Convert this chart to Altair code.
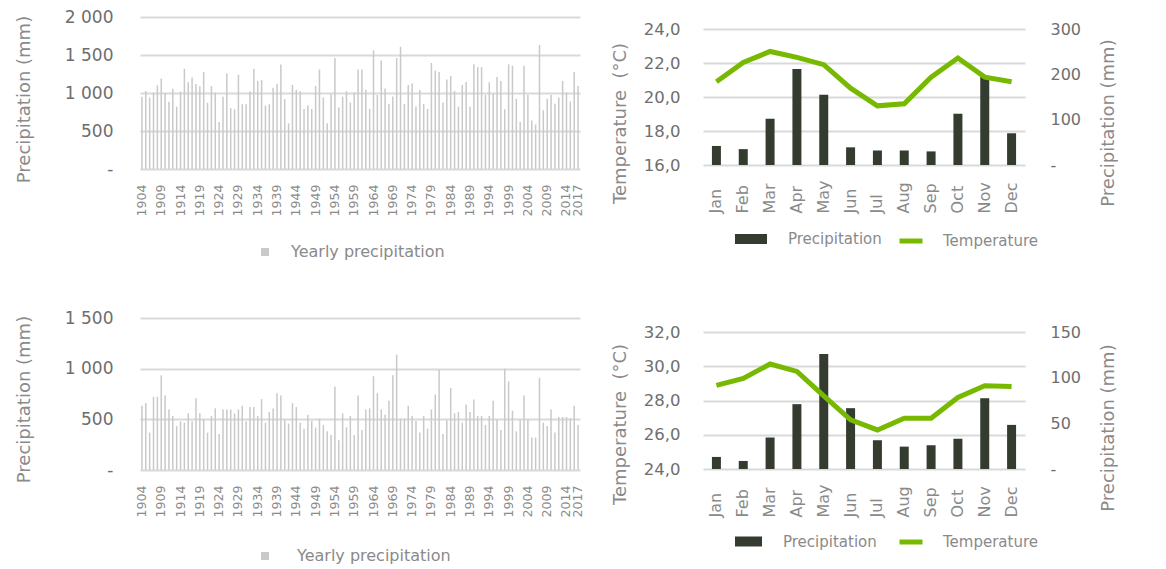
import altair as alt
import pandas as pd

# ---------------- data ----------------
years = list(range(1904, 2018))
precip_site1 = [950, 1025, 940, 1005, 1100, 1190, 1000, 885, 1055, 820, 1020, 1320, 1140, 1205, 1120, 1090,
                1275, 870, 1090, 1005, 620, 950, 1255, 800, 785, 1240, 853, 853, 1020, 1320, 1158, 1170, 835,
                853, 1068, 1120, 1375, 920, 600,
                1106, 1041, 1023, 791, 835, 791, 1093, 1308, 940, 603, 984, 1461, 809, 953, 1023, 875, 1006,
                1308, 1308, 1041, 791, 1561, 975, 1426, 1058, 857, 953, 1461, 1609, 857, 1106, 1124, 822,
                1041, 857, 791, 1395, 1294,
                1277, 875, 1176, 1224, 1028, 822, 1106, 1146, 822, 1377, 1342, 1342, 975, 1141, 993, 1211,
                1159, 787, 1377, 1360, 923, 617, 1360, 975, 638, 586, 1631, 774, 923, 975, 857, 940, 1159,
                1006, 888, 1277, 1093]
precip_site2 = [634, 660, 369, 722, 722, 935, 735, 598, 533, 435, 480, 467, 559, 480, 709, 559, 503, 369,
                533, 608, 356, 598, 598, 598, 559, 598, 634, 480, 621, 621, 533, 699, 467, 572, 608, 758,
                735, 497, 458,
                660, 621, 467, 408, 546, 484, 418, 506, 444, 382, 346, 824, 294, 559, 422, 533, 346, 735,
                395, 598, 608, 925, 758, 598, 546, 683, 935, 1137, 506, 506, 634, 533, 484, 369, 533, 408,
                598, 745,
                987, 356, 490, 810, 559, 572, 467, 647, 572, 696, 533, 533, 444, 533, 683, 497, 395, 1000,
                873, 585, 382, 497, 735, 497, 320, 320, 912, 467, 435, 598, 369, 523, 523, 523, 510, 634, 444]
year_ticks = [1904, 1909, 1914, 1919, 1924, 1929, 1934, 1939, 1944, 1949, 1954, 1959, 1964, 1969,
              1974, 1979, 1984, 1989, 1994, 1999, 2004, 2009, 2014, 2017]

months = ["Jan", "Feb", "Mar", "Apr", "May", "Jun", "Jul", "Aug", "Sep", "Oct", "Nov", "Dec"]
month_precip_1 = [42, 35, 102, 212, 155, 39, 32, 32, 30, 113, 194, 70]
month_temp_1 = [20.9, 22.03, 22.68, 22.33, 21.9, 20.52, 19.48, 19.6, 21.17, 22.29, 21.17, 20.9]
month_precip_2 = [13.2, 8.8, 34.4, 71, 126, 66.6, 31.5, 24.5, 26, 33, 77.5, 48.3]
month_temp_2 = [28.88, 29.29, 30.13, 29.7, 28.27, 26.87, 26.28, 26.97, 26.97, 28.18, 28.86, 28.82]

temp_ticks_1 = [16, 18, 20, 22, 24]
precip_ticks_1 = [0, 100, 200, 300]
temp_ticks_2 = [24, 26, 28, 30, 32]
precip_ticks_2 = [0, 50, 100, 150]

assert len(precip_site1) == len(years) == len(precip_site2)

# ---------------- style ----------------
FONT = "DejaVu Sans"
LABEL_C = "#6e6e6e"
TITLE_C = "#8a8a8a"
GRID_C = "#d9d9d9"
BAR_LIGHT = "#c9c9c9"
BAR_DARK = "#343c2f"
GREEN = "#77b900"

thousands = "datum.value == 0 ? '-' : replace(format(datum.value, ','), ',', ' ')"
decimal_comma = "replace(format(datum.value, '.1f'), '.', ',')"
dash_zero = "datum.value == 0 ? '-' : format(datum.value, 'd')"

NO_VIEW = alt.ViewBackground(stroke="transparent", strokeWidth=0)


def yearly_chart(values, ymax, yvals, title_y, legend_y, label_offset):
    df = pd.DataFrame({"year": years, "precip": values, "series": "Yearly precipitation"})
    return alt.Chart(df).mark_bar(size=1.5).encode(
        x=alt.X("year:O", scale=alt.Scale(paddingInner=0, paddingOuter=0),
                axis=alt.Axis(values=year_ticks, title=None, labelAngle=270, labelFontSize=12.6,
                              labelColor=TITLE_C, labelPadding=15, ticks=False, domain=False,
                              grid=False, labelFont=FONT)),
        y=alt.Y("precip:Q", scale=alt.Scale(domain=[0, ymax], nice=False),
                axis=alt.Axis(values=yvals, labelExpr=thousands, title="Precipitation (mm)",
                              titleFontSize=18, titleFontWeight="normal", titleColor=TITLE_C,
                              titleFont=FONT, titleY=title_y, titlePadding=31,
                              labelFontSize=17, labelColor=LABEL_C, labelFont=FONT, labelPadding=27,
                              ticks=False, domain=False, grid=True, gridColor=GRID_C, gridWidth=2)),
        color=alt.Color("series:N", scale=alt.Scale(domain=["Yearly precipitation"], range=[BAR_LIGHT]),
                        legend=alt.Legend(title=None, orient="none", legendX=117, legendY=legend_y,
                                          symbolType="square", symbolSize=64, symbolStrokeWidth=0,
                                          labelFontSize=16, labelColor=TITLE_C, labelFont=FONT,
                                          labelOffset=label_offset, padding=0)),
    ).properties(width=440, height=152, view=NO_VIEW)


def climate_chart(precip, temp, tdom, pdom, tticks, pticks, title_y_left, title_y_right, height,
                  leg_y_p, leg_y_t, rect_size):
    df = pd.DataFrame({"month": months, "precip": precip, "temp": temp,
                       "p": "Precipitation", "t": "Temperature"})
    base = alt.Chart(df)
    xenc = alt.X("month:N", sort=months, scale=alt.Scale(paddingInner=0, paddingOuter=0),
                 axis=alt.Axis(title=None, labelAngle=270, labelAlign="left", labelBaseline="middle",
                               labelPadding=48, labelFontSize=16, labelColor=TITLE_C, labelFont=FONT,
                               ticks=False, domain=False, grid=False))
    half_h = 5.0 / (rect_size ** 0.5 / 2)
    bars = base.mark_bar(size=9).encode(
        x=xenc,
        y=alt.Y("precip:Q", scale=alt.Scale(domain=pdom, nice=False),
                axis=alt.Axis(orient="right", values=pticks,
                              labelExpr=dash_zero, labelFontSize=16, labelColor=LABEL_C, labelFont=FONT,
                              labelPadding=25, title="Precipitation (mm)", titleFontSize=18,
                              titleFontWeight="normal", titleColor=TITLE_C, titleFont=FONT,
                              titleAngle=270, titleBaseline="top", titleY=title_y_right,
                              titlePadding=19, ticks=False, domain=False, grid=False)),
        fill=alt.Fill("p:N", scale=alt.Scale(domain=["Precipitation"], range=[BAR_DARK]),
                      legend=alt.Legend(title=None, orient="none", legendX=32, legendY=leg_y_p,
                                        symbolType=f"M-1,-{half_h:.4f}H1V{half_h:.4f}H-1Z",
                                        symbolSize=rect_size,
                                        symbolStrokeWidth=0, labelFontSize=15, labelColor=TITLE_C,
                                        labelFont=FONT, labelOffset=21, padding=0)),
    )
    line = base.mark_line(strokeWidth=5).encode(
        x=xenc,
        y=alt.Y("temp:Q", scale=alt.Scale(domain=tdom, nice=False, zero=False),
                axis=alt.Axis(orient="left", values=tticks,
                              labelExpr=decimal_comma, labelFontSize=16.5, labelColor=LABEL_C,
                              labelFont=FONT, labelPadding=23, title="Temperature\u00a0 (°C)",
                              titleFontSize=18, titleFontWeight="normal", titleColor=TITLE_C,
                              titleFont=FONT, titleY=title_y_left, titlePadding=14,
                              ticks=False, domain=False, grid=True, gridColor=GRID_C, gridWidth=2)),
        stroke=alt.Stroke("t:N", scale=alt.Scale(domain=["Temperature"], range=[GREEN]),
                          legend=alt.Legend(title=None, orient="none", legendX=194, legendY=leg_y_t,
                                            symbolType="stroke", symbolSize=529, symbolStrokeWidth=5,
                                            labelFontSize=15, labelColor=TITLE_C, labelFont=FONT,
                                            labelOffset=18, padding=0)),
    )
    return alt.layer(bars, line).resolve_scale(y="independent").properties(
        width=322, height=height, view=NO_VIEW)


tl = yearly_chart(precip_site1, 2000, [0, 500, 1000, 1500, 2000], 82, 227, 18)
bl = yearly_chart(precip_site2, 1500, [0, 500, 1000, 1500], 81, 230, 24)
# top-right plot area starts 12 px below the top-left one: the scale domain extends above the top tick
EXT = 12
tr = climate_chart(month_precip_1, month_temp_1, [16, 24 + 8 * EXT / 136], [0, 300 + 300 * EXT / 136],
                   temp_ticks_1, precip_ticks_1, 94 + EXT, 93.5 + EXT, 136 + EXT, 194 + EXT, 198 + EXT, 1024)
br = climate_chart(month_precip_2, month_temp_2, [24, 32], [0, 150], temp_ticks_2, precip_ticks_2,
                   92, 95.5, 137, 196, 196, 729)

IND = dict(color="independent", fill="independent", stroke="independent")
left_col = alt.vconcat(tl, bl, spacing=49).resolve_scale(**IND).resolve_legend(**IND)
right_col = alt.vconcat(tr, br, spacing=73).resolve_scale(**IND).resolve_legend(**IND)

chart = alt.hconcat(left_col, right_col, spacing=26).resolve_scale(**IND).resolve_legend(**IND).properties(
    padding={"left": 7, "top": 0, "right": 0, "bottom": 0},
    background="white",
).configure(font=FONT).configure_view(strokeWidth=0, stroke="transparent")

chart.save("out.html", embed_options={"renderer": "svg", "actions": False})
